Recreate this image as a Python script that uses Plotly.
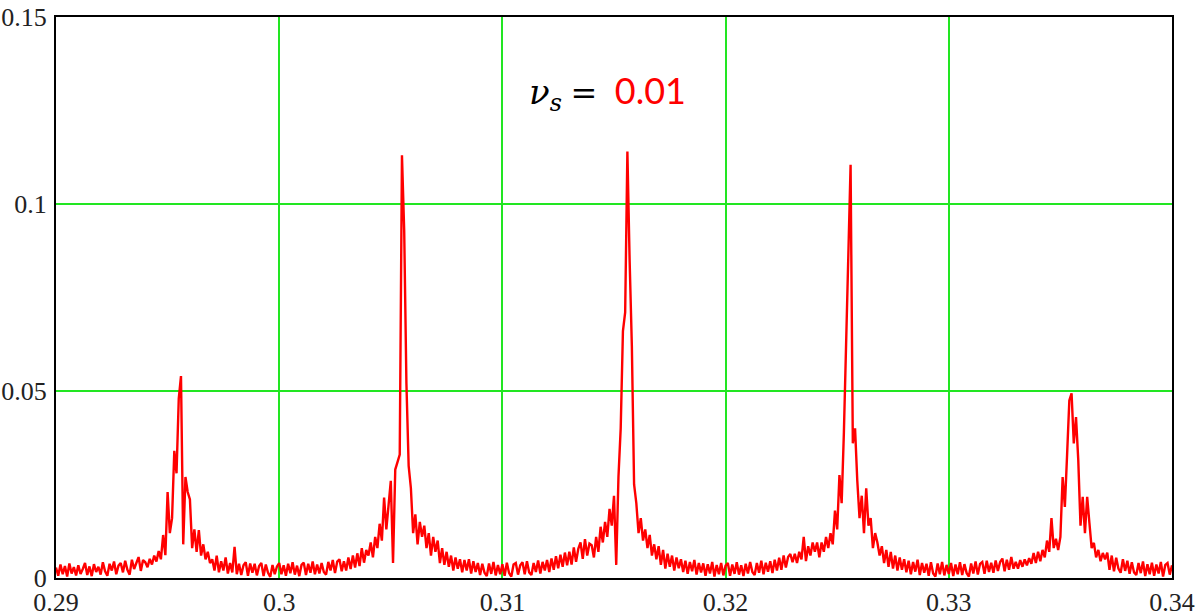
import plotly.graph_objects as go

# Frequency grid (tune), start and step
x_start = 0.29
x_step = 0.0001

# Spectrum amplitude, in units of 1e-3, one value per 0.0001 from 0.2900 to 0.3400
amp_milli = [
    2.8, 0.6, 3.6, 1.0, 3.2, 0.4, 3.9, 1.2, 2.9, 0.7,
    3.4, 1.1, 2.4, 4.0, 0.8, 3.1, 0.5, 3.7, 1.6, 3.0,
    0.9, 4.2, 1.8, 0.6, 3.8, 2.0, 4.4, 1.0, 3.3, 4.0,
    1.5, 4.6, 2.2, 0.9, 4.9, 2.4, 4.0, 5.6, 1.9, 4.8,
    4.2, 2.9, 5.1, 3.6, 6.0, 4.4, 7.2, 5.0, 11.5, 6.1,
    23.0, 12.0, 16.0, 34.0, 28.0, 48.0, 54.0, 9.0, 27.0, 23.0,
    21.0, 8.0, 13.0, 7.0, 12.8, 6.0, 9.0, 5.0, 7.0, 4.0,
    5.0, 2.0, 6.0, 1.5, 4.5, 2.0, 5.5, 1.2, 4.0, 1.5,
    8.3, 1.0, 3.8, 0.8, 3.4, 4.2, 0.6, 3.9, 1.4, 3.8,
    0.7, 3.2, 4.0, 0.5, 3.6, 1.4, 0.3, 3.5, 1.0, 3.1,
    4.0, 1.0, 3.4, 0.6, 3.8, 1.3, 4.2, 0.9, 3.3, 0.5,
    3.5, 4.1, 0.8, 3.8, 1.4, 4.4, 1.0, 3.6, 1.2, 4.0,
    1.6, 0.9, 4.3, 2.0, 4.8, 1.3, 4.4, 5.0, 1.8, 4.5,
    2.0, 5.5, 2.4, 6.0, 2.8, 6.6, 3.2, 8.0, 4.1, 7.5,
    6.0, 9.5, 5.5, 11.0, 8.0, 14.5, 10.0, 21.5, 13.0, 20.0,
    26.0, 4.0, 29.0, 31.0, 33.0, 113.0, 93.0, 52.0, 30.0, 24.0,
    12.0, 17.0, 9.0, 15.0, 11.0, 14.0, 8.0, 12.0, 6.0, 11.0,
    7.0, 10.0, 4.0, 8.0, 3.5, 7.0, 3.0, 6.0, 2.0, 5.5,
    2.5, 5.0, 1.5, 4.8, 2.0, 5.0, 1.2, 4.5, 1.6, 4.0,
    0.8, 3.8, 1.4, 0.5, 3.9, 1.1, 4.3, 0.7, 3.5, 1.0,
    3.7, 0.6, 4.1, 1.3, 0.4, 3.6, 4.0, 0.9, 3.4, 4.2,
    1.0, 4.5, 1.5, 0.8, 4.0, 1.6, 4.7, 1.2, 4.3, 2.0,
    4.8, 1.6, 5.2, 2.2, 5.8, 2.6, 6.2, 3.0, 6.8, 3.4,
    7.0, 3.6, 8.2, 4.3, 7.8, 9.5, 5.1, 10.4, 6.0, 9.2,
    8.8, 5.5, 11.0, 7.0, 13.7, 9.5, 15.0, 11.0, 18.5, 14.0,
    22.0, 3.5, 27.0, 40.0, 66.0, 71.0, 114.0, 85.0, 62.0, 25.0,
    20.0, 12.0, 16.0, 10.0, 13.0, 8.0, 11.5, 6.0, 9.0, 5.0,
    8.5, 3.5, 7.5, 2.5, 6.5, 3.0, 6.0, 2.0, 5.5, 2.6,
    5.0, 1.6, 4.6, 1.1, 4.3, 1.8, 4.8, 0.9, 4.0, 1.5,
    3.9, 0.6, 3.7, 1.2, 4.3, 0.4, 3.5, 1.0, 4.0, 0.7,
    3.3, 4.0, 0.6, 3.6, 1.1, 4.2, 0.9, 3.4, 0.5, 3.8,
    1.2, 4.3, 1.6, 0.8, 4.0, 1.4, 4.6, 1.0, 4.1, 1.7,
    4.5, 1.3, 4.9, 2.0, 5.4, 2.2, 6.0, 2.8, 5.6, 6.4,
    4.2, 6.5, 4.0, 7.0, 5.0, 11.0, 4.5, 8.5, 6.0, 9.5,
    7.0, 9.5, 5.5, 9.5, 7.0, 11.0, 8.0, 12.0, 9.0, 18.0,
    13.0, 27.5, 20.0, 39.0, 63.0, 90.0, 110.5, 36.0, 40.0, 26.0,
    16.0, 22.0, 12.0, 24.0, 14.0, 16.0, 8.0, 12.0, 9.5, 6.0,
    8.5, 4.0, 7.5, 3.0, 7.0, 2.5, 6.0, 2.0, 5.5, 2.2,
    5.0, 1.5, 4.6, 1.0, 4.3, 1.7, 4.9, 0.8, 4.0, 1.4,
    3.8, 0.6, 4.2, 1.2, 0.4, 3.9, 1.0, 4.3, 0.7, 3.5,
    1.1, 4.0, 0.5, 3.6, 1.0, 4.2, 0.8, 3.7, 1.3, 0.4,
    3.9, 1.2, 4.4, 0.9, 3.8, 4.3, 1.1, 4.6, 1.6, 4.1,
    1.4, 4.7, 1.9, 4.3, 5.2, 1.8, 4.9, 2.2, 5.6, 2.5,
    4.3, 2.5, 4.8, 3.0, 5.0, 3.4, 5.3, 3.8, 6.7, 4.0,
    7.0, 4.5, 7.5, 5.5, 10.0, 7.0, 16.0, 8.0, 10.5, 7.5,
    11.0, 27.0, 19.0, 33.0, 47.5, 49.4, 36.0, 43.0, 31.6, 14.0,
    21.7, 12.0, 21.7, 14.7, 8.0, 9.4, 5.5, 7.5, 4.5, 6.7,
    5.0, 6.8, 2.2, 6.0, 1.8, 5.4, 2.5, 1.4, 5.0, 1.9,
    4.6, 1.1, 4.2, 1.5, 0.8, 4.0, 1.3, 4.4, 0.5, 3.7,
    1.0, 4.1, 0.6, 3.6, 1.2, 4.3, 0.4, 3.5, 4.0, 0.9,
    3.4,
]
amp = [v / 1000.0 for v in amp_milli]

x_ticks = [0.29, 0.30, 0.31, 0.32, 0.33, 0.34]
x_tick_text = ["0.29", "0.3", "0.31", "0.32", "0.33", "0.34"]
y_ticks = [0, 0.05, 0.10, 0.15]
y_tick_text = ["0", "0.05", "0.1", "0.15"]

grid_green = "#22e622"
tick_font = dict(family="Liberation Serif, Times New Roman, serif", size=26, color="#222")

nb = "\u00a0"
label = (
    "<span style='font-family:DejaVu Serif'><i>ν</i></span>"
    "<sub><span style='font-family:DejaVu Serif'><i>s</i></span></sub>"
    + nb + "<span style='font-family:DejaVu Serif;font-size:32px'>=</span>" + nb + nb +
    "<span style='color:#ff0000;font-size:36px'>0.01</span>"
)

fig = go.Figure()
fig.add_trace(go.Scatter(
    x0=x_start, dx=x_step, y=amp,
    mode="lines",
    line=dict(color="#ff0000", width=2.4),
    showlegend=False,
    hoverinfo="skip",
))

fig.update_layout(
    width=1196, height=616,
    margin=dict(l=56, r=24, t=17, b=38, autoexpand=False),
    paper_bgcolor="white",
    plot_bgcolor="white",
    annotations=[dict(
        x=0.3147, y=0.1297, xref="x", yref="y",
        text=label,
        showarrow=False,
        font=dict(family="Lato, Liberation Sans, sans-serif", size=34, color="black"),
    )],
)
fig.update_xaxes(
    range=[0.29, 0.34],
    tickvals=x_ticks, ticktext=x_tick_text,
    showgrid=True, gridcolor=grid_green, gridwidth=1.5,
    zeroline=False, automargin=False,
    showline=True, linecolor="black", linewidth=2, mirror=True,
    ticks="", tickfont=tick_font, ticklabelstandoff=0,
)
fig.update_yaxes(
    range=[0, 0.15],
    tickvals=y_ticks, ticktext=y_tick_text,
    showgrid=True, gridcolor=grid_green, gridwidth=1.5,
    zeroline=False, automargin=False,
    showline=True, linecolor="black", linewidth=2, mirror=True,
    ticks="", tickfont=tick_font, ticklabelstandoff=2,
)

fig.write_html("out.html")
